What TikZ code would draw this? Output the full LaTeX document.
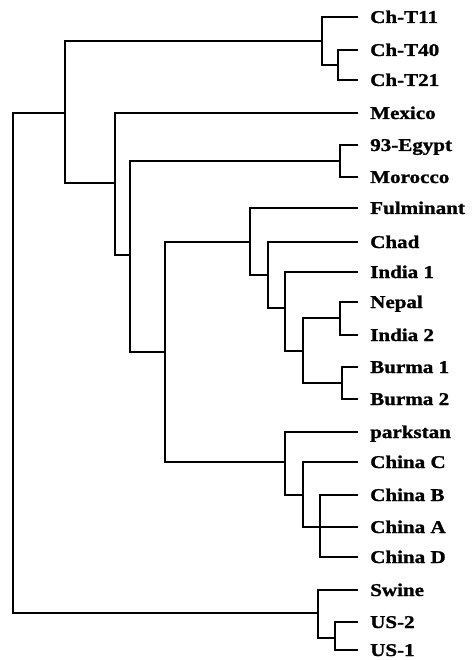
\documentclass[tikz,border=0pt]{standalone}
\usepackage{fontspec}
\setmainfont{Liberation Serif}[FakeStretch=1.17,BoldFeatures={FakeBold=1.2}]
\begin{document}
\begin{tikzpicture}[x=1pt,y=-1pt,
  branch/.style={line width=2.8pt,line join=miter,line cap=rect},
  taxon/.style={anchor=base west,inner sep=0pt,yshift=-6pt,
    font=\fontsize{18}{18}\selectfont\bfseries}]
\useasboundingbox (0,0) rectangle (474,660);

% leaf tips and their labels
\foreach \nm/\yy/\txt in {t11/17/Ch-T11, t40/50/Ch-T40, t21/80/Ch-T21,
    mex/113/Mexico, egy/145/93-Egypt, mor/177/Morocco, ful/208/Fulminant,
    chad/242/Chad, ind1/272/India 1, nep/302/Nepal, ind2/335/India 2,
    bur1/367/Burma 1, bur2/399/Burma 2, park/432/parkstan, chc/462/China C,
    chb/495/China B, cha/527/China A, chd/557/China D, swi/590/Swine,
    us2/622/US-2, us1/650/US-1}{
  \coordinate (\nm) at (357,\yy);
  \node[taxon] (L\nm) at (370,\yy) {\txt};
}

% internal nodes
\coordinate (root) at (13,363);
\coordinate (nA) at (65,113);
\coordinate (nCh) at (322,41);
\coordinate (nT) at (338,65);
\coordinate (nB) at (115,183);
\coordinate (nC) at (130,255);
\coordinate (nEM) at (340,161);
\coordinate (nD) at (165,352);
\coordinate (nF) at (250,242);
\coordinate (nG) at (268,275);
\coordinate (nH) at (285,308);
\coordinate (nI) at (303,351);
\coordinate (nNI) at (340,318);
\coordinate (nBU) at (342,383);
\coordinate (nP) at (285,462);
\coordinate (nQ) at (303,495);
\coordinate (nR) at (320,527);
\coordinate (nS) at (318,613);
\coordinate (nU) at (335,638);

% branches
\foreach \p/\c in {root/nA, root/nS,
    nA/nCh, nA/nB, nCh/t11, nCh/nT, nT/t40, nT/t21,
    nB/mex, nB/nC, nC/nEM, nC/nD, nEM/egy, nEM/mor,
    nD/nF, nD/nP, nF/ful, nF/nG, nG/chad, nG/nH, nH/ind1, nH/nI,
    nI/nNI, nI/nBU, nNI/nep, nNI/ind2, nBU/bur1, nBU/bur2,
    nP/park, nP/nQ, nQ/chc, nQ/nR, nR/chb, nR/cha, nR/chd,
    nS/swi, nS/nU, nU/us2, nU/us1}{
  \draw[branch] (\p) |- (\c);
}
\end{tikzpicture}
\end{document}
